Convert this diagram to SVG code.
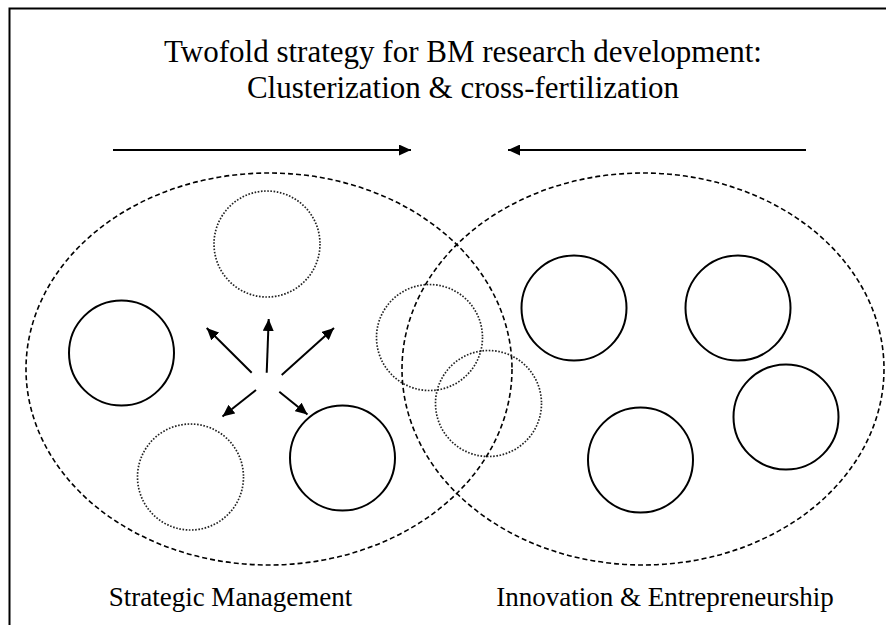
<svg xmlns="http://www.w3.org/2000/svg" width="886" height="625" viewBox="0 0 886 625">
<defs>
<marker id="ah" viewBox="0 0 12 11" refX="12" refY="5.5" markerWidth="12" markerHeight="11" markerUnits="userSpaceOnUse" orient="auto">
<path d="M0,0 L12,5.5 L0,11 Z" fill="#000"/>
</marker>
</defs>
<style>
.t{font-size:31px}
.lbl{font-size:27px}
.cl{fill:none;stroke:#000;stroke-width:1.6;stroke-dasharray:5 3}
.sol{fill:none;stroke:#000;stroke-width:2}
.dot{fill:none;stroke:#222;stroke-width:1.7;stroke-dasharray:1.6 1.6}
.ar{fill:none;stroke:#000;stroke-width:2;marker-end:url(#ah)}
.fr{fill:none;stroke:#000;stroke-width:2}
</style>
<rect width="886" height="625" fill="#fff"/>
<path class="fr" d="M9.5,625 V8.5 H886"/>
<g id="title" font-family="'Liberation Serif', 'DejaVu Serif', serif" fill="#000">
<text class="t" x="463" y="62" text-anchor="middle">Twofold strategy for BM research development:</text>
<text class="t" x="463" y="98" text-anchor="middle">Clusterization &amp; cross-fertilization</text>
</g>
<g id="cluster-sm">
<ellipse class="cl" cx="269" cy="369" rx="243" ry="196"/>
<text class="lbl" x="230.5" y="606" text-anchor="middle" font-family="'Liberation Serif', 'DejaVu Serif', serif">Strategic Management</text>
</g>
<g id="cluster-ie">
<ellipse class="cl" cx="643" cy="369" rx="241" ry="196"/>
<text class="lbl" x="665" y="606" text-anchor="middle" font-family="'Liberation Serif', 'DejaVu Serif', serif">Innovation &amp; Entrepreneurship</text>
</g>
<g id="sm-circles">
<circle class="sol" cx="121.5" cy="353" r="52.5"/>
<circle class="sol" cx="342.5" cy="458" r="52.5"/>
<circle class="dot" cx="267" cy="244" r="53"/>
<circle class="dot" cx="190.5" cy="477" r="53"/>
</g>
<g id="ie-circles">
<circle class="sol" cx="574" cy="308" r="52.5"/>
<circle class="sol" cx="738" cy="308" r="52.5"/>
<circle class="sol" cx="640.5" cy="460" r="52.5"/>
<circle class="sol" cx="786" cy="417" r="52.5"/>
</g>
<g id="overlap-circles">
<circle class="dot" cx="429.5" cy="337.5" r="53"/>
<circle class="dot" cx="488.5" cy="403.5" r="53"/>
</g>
<g id="connectors">
<line class="ar" x1="113" y1="150" x2="411" y2="150"/>
<line class="ar" x1="806" y1="150" x2="508" y2="150"/>
<line class="ar" x1="266.7" y1="372.7" x2="268.7" y2="319"/>
<line class="ar" x1="251.7" y1="372.7" x2="206.7" y2="328"/>
<line class="ar" x1="281.7" y1="375" x2="334" y2="328"/>
<line class="ar" x1="256" y1="390" x2="222.5" y2="416.5"/>
<line class="ar" x1="279.3" y1="391.7" x2="307.5" y2="414.5"/>
</g>
</svg>
